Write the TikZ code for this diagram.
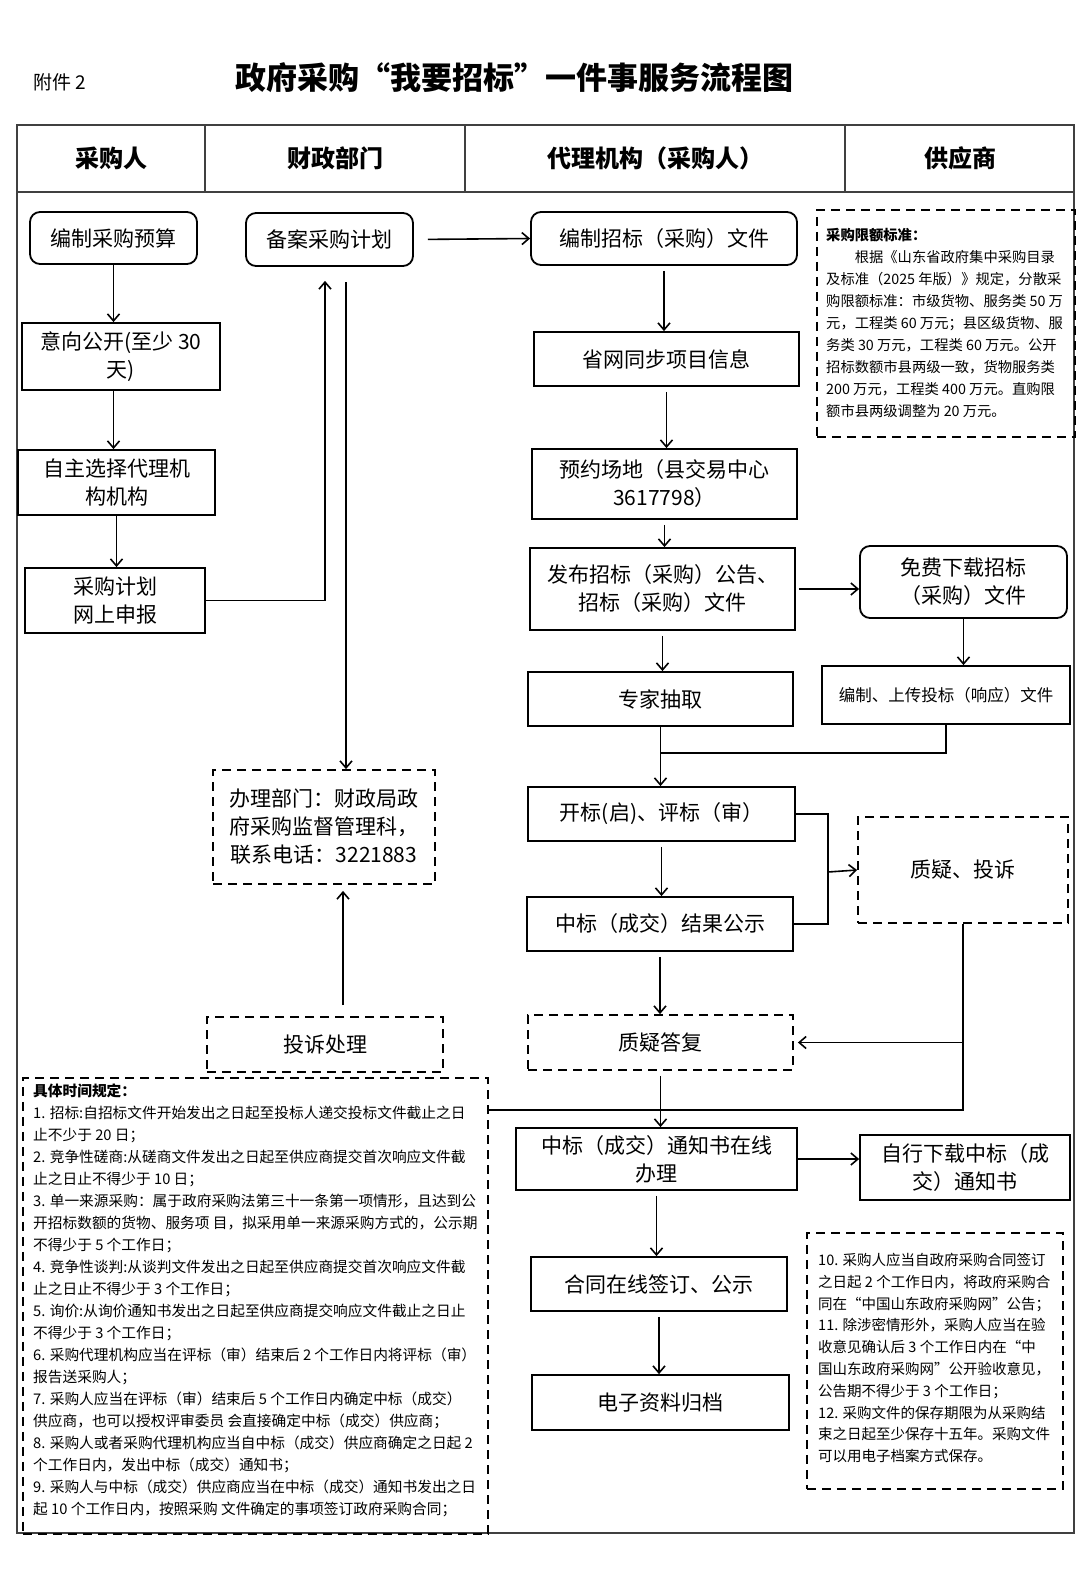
\documentclass[tikz,border=0pt]{standalone}
\usepackage{fontspec}
\setmainfont{Noto Sans CJK SC}
\usetikzlibrary{arrows.meta,calc}

\tikzset{
  box/.style={draw, line width=1.8pt, align=center, inner sep=0pt, font=\fontsize{21}{28}\selectfont},
  rbox/.style={box, rounded corners=10pt},
  dbox/.style={box, dash pattern=on 9pt off 6pt},
  head/.style={font=\bfseries\fontsize{24}{24}\selectfont},
  frame/.style={line width=1.3pt, black!75},
  flow/.style={line width=1.6pt, -{Straight Barb[length=7pt,width=12pt,line width=1.6pt]}},
  link/.style={line width=1.6pt},
  notetext/.style={anchor=north west, align=left, inner sep=0pt, font=\fontsize{14.7}{22}\selectfont},
}

\begin{document}
\begin{tikzpicture}[x=1pt,y=-1pt]
			%%%%% START %%%%%
			\useasboundingbox (0,0) rectangle (1080,1569);
			
			\node[anchor=west, font=\fontsize{19}{19}\selectfont] (annex) at (30,82) {附件 2};
			\node[font=\bfseries\fontsize{31}{31}\selectfont] (title) at (514,78) {政府采购“我要招标”一件事服务流程图};
			
			% table frame
			\draw[frame] (17,125) rectangle (1074,1533);
			\draw[frame] (17,192) -- (1074,192);
			\foreach \x in {205,465,845}
				\draw[frame] (\x,125) -- (\x,192);
			\node[head] (hbuyer) at (111,158) {采购人};
			\node[head] (hfinance) at (335,158) {财政部门};
			\node[head] (hagent) at (655,158) {代理机构（采购人）};
			\node[head] (hsupplier) at (960,158) {供应商};
			
			% buyer column
			\node[rbox, minimum width=167pt, minimum height=52pt] (budget) at (113.5,238) {编制采购预算};
			\node[box, minimum width=198pt, minimum height=67pt] (intent) at (121,356.5) {意向公开(至少 30\\天)};
			\node[box, minimum width=197pt, minimum height=65pt] (agent) at (116.5,482.5) {自主选择代理机\\构机构};
			\node[box, minimum width=180pt, minimum height=65pt] (plan) at (115,600.5) {采购计划\\网上申报};
			
			% finance column
			\node[rbox, minimum width=167pt, minimum height=53pt] (record) at (329.5,239.5) {备案采购计划};
			\node[dbox, minimum width=222pt, minimum height=114pt] (office) at (324,827) {办理部门：财政局政\\府采购监督管理科，\\联系电话：3221883};
			\node[dbox, minimum width=236pt, minimum height=55pt] (complaint) at (325,1044.5) {投诉处理};
			
			% agency column
			\node[rbox, minimum width=266pt, minimum height=53pt] (docs) at (664,238.5) {编制招标（采购）文件};
			\node[box, minimum width=265pt, minimum height=54pt] (sync) at (666.5,359) {省网同步项目信息};
			\node[box, minimum width=265pt, minimum height=70pt] (venue) at (664.5,484) {预约场地（县交易中心\\3617798）};
			\node[box, minimum width=265pt, minimum height=82pt] (publish) at (662.5,589) {发布招标（采购）公告、\\招标（采购）文件};
			\node[box, minimum width=265pt, minimum height=54pt] (expert) at (660.5,699) {专家抽取};
			\node[box, minimum width=267pt, minimum height=54pt] (opening) at (661.5,814) {开标(启)、评标（审）};
			\node[box, minimum width=266pt, minimum height=54pt] (result) at (660,924) {中标（成交）结果公示};
			\node[dbox, minimum width=265pt, minimum height=55pt] (reply) at (660.5,1042.5) {质疑答复};
			\node[box, minimum width=281pt, minimum height=62pt] (notice) at (656.5,1159) {中标（成交）通知书在线\\办理};
			\node[box, minimum width=256pt, minimum height=54pt] (contract) at (659,1284) {合同在线签订、公示};
			\node[box, minimum width=257pt, minimum height=55pt] (archive) at (660.5,1402.5) {电子资料归档};
			
			% supplier column
			\node[rbox, minimum width=207pt, minimum height=72pt] (download) at (963.5,582) {免费下载招标\\（采购）文件};
			\node[box, minimum width=248pt, minimum height=58pt, font=\fontsize{16.5}{22}\selectfont] (upload) at (946,695) {编制、上传投标（响应）文件};
			\node[dbox, minimum width=210pt, minimum height=106pt] (query) at (963,870) {质疑、投诉};
			\node[box, minimum width=210pt, minimum height=65pt] (selfdl) at (965,1167.5) {自行下载中标（成\\交）通知书};
			
			% notes
			\node[dbox, anchor=north west, minimum width=258pt, minimum height=227pt] (limitbox) at (816,209) {};
			\node[notetext, font=\fontsize{14.3}{22}\selectfont] (limittext) at (826,228) {{\bfseries 采购限额标准：}\\
				\hspace*{2em}根据《山东省政府集中采购目录\\
				及标准（2025 年版）》规定，分散采\\
				购限额标准：市级货物、服务类 50 万\\
				元，工程类 60 万元；县区级货物、服\\
				务类 30 万元，工程类 60 万元。公开\\
				招标数额市县两级一致，货物服务类\\
				200 万元，工程类 400 万元。直购限\\
				额市县两级调整为 20 万元。};
			
			\node[dbox, anchor=north west, minimum width=465pt, minimum height=456pt] (timenote) at (22,1077) {};
			\node[notetext] (timetext) at (33,1084) {{\bfseries 具体时间规定：}\\
				1. 招标:自招标文件开始发出之日起至投标人递交投标文件截止之日\\
				止不少于 20 日；\\
				2. 竞争性磋商:从磋商文件发出之日起至供应商提交首次响应文件截\\
				止之日止不得少于 10 日；\\
				3. 单一来源采购：属于政府采购法第三十一条第一项情形，且达到公\\
				开招标数额的货物、服务项 目，拟采用单一来源采购方式的，公示期\\
				不得少于 5 个工作日；\\
				4. 竞争性谈判:从谈判文件发出之日起至供应商提交首次响应文件截\\
				止之日止不得少于 3 个工作日；\\
				5. 询价:从询价通知书发出之日起至供应商提交响应文件截止之日止\\
				不得少于 3 个工作日；\\
				6. 采购代理机构应当在评标（审）结束后 2 个工作日内将评标（审）\\
				报告送采购人；\\
				7. 采购人应当在评标（审）结束后 5 个工作日内确定中标（成交）\\
				供应商，也可以授权评审委员 会直接确定中标（成交）供应商；\\
				8. 采购人或者采购代理机构应当自中标（成交）供应商确定之日起 2\\
				个工作日内，发出中标（成交）通知书；\\
				9. 采购人与中标（成交）供应商应当在中标（成交）通知书发出之日\\
				起 10 个工作日内，按照采购 文件确定的事项签订政府采购合同；};
			
			\node[dbox, anchor=north west, minimum width=256pt, minimum height=256pt] (archnote) at (806,1232) {};
			\node[notetext, font=\fontsize{14.5}{21.8}\selectfont] (archtext) at (818,1253) {10. 采购人应当自政府采购合同签订\\
				之日起 2 个工作日内，将政府采购合\\
				同在“中国山东政府采购网”公告；\\
				11. 除涉密情形外，采购人应当在验\\
				收意见确认后 3 个工作日内在“中\\
				国山东政府采购网”公开验收意见，\\
				公告期不得少于 3 个工作日；\\
				12. 采购文件的保存期限为从采购结\\
				束之日起至少保存十五年。采购文件\\
				可以用电子档案方式保存。};
			
			% connectors
			\coordinate (tap) at (346,282);
			\coordinate (cup) at (343,1005);
			\coordinate (join) at (660.5,753);
			\coordinate (fork) at (828,872);
			\coordinate (drop) at (966,1110);
			
			\draw[flow] (budget.south) -- (budget.south |- intent.north);
			\draw[flow] (budget.south |- intent.south) -- (budget.south |- agent.north);
			\draw[flow] (agent.south) -- (agent.south |- plan.north);
			\draw[flow] (plan.east) -| ([xshift=-4.5pt,yshift=-14pt]record.south);
			\draw[flow] (tap) -- (tap |- office.north);
			\draw[flow, shorten >=6pt] (cup) -- (cup |- office.south);
			\draw[flow, shorten <=14pt] (record.east) -- (docs.west);
			
			\foreach \a/\b in {docs/sync, sync/venue, venue/publish, publish/expert, opening/result, result/reply, reply/notice, notice/contract, contract/archive}
				\draw[flow, shorten <=5pt] (\a.south) -- (\a.south |- \b.north);
			
			\draw[flow, shorten <=3pt] (publish.east) -- (publish.east -| download.west);
			\draw[flow] (download.south) -- (download.south |- upload.north);
			\draw[link] (upload.south) |- (join);
			\draw[flow] (expert.south) -- (expert.south |- opening.north);
			
			\draw[link] (opening.east) -| (fork) |- (result.east);
			\draw[flow] (fork) -- (query.west);
			\draw[link] (query.south) |- (timenote.east |- drop);
			\draw[flow, shorten >=4pt] (query.south |- reply.east) -- (reply.east);
			\draw[flow] (notice.east) -- (notice.east -| selfdl.west);
			
			%%%%% END %%%%%
\end{tikzpicture}
\end{document}
